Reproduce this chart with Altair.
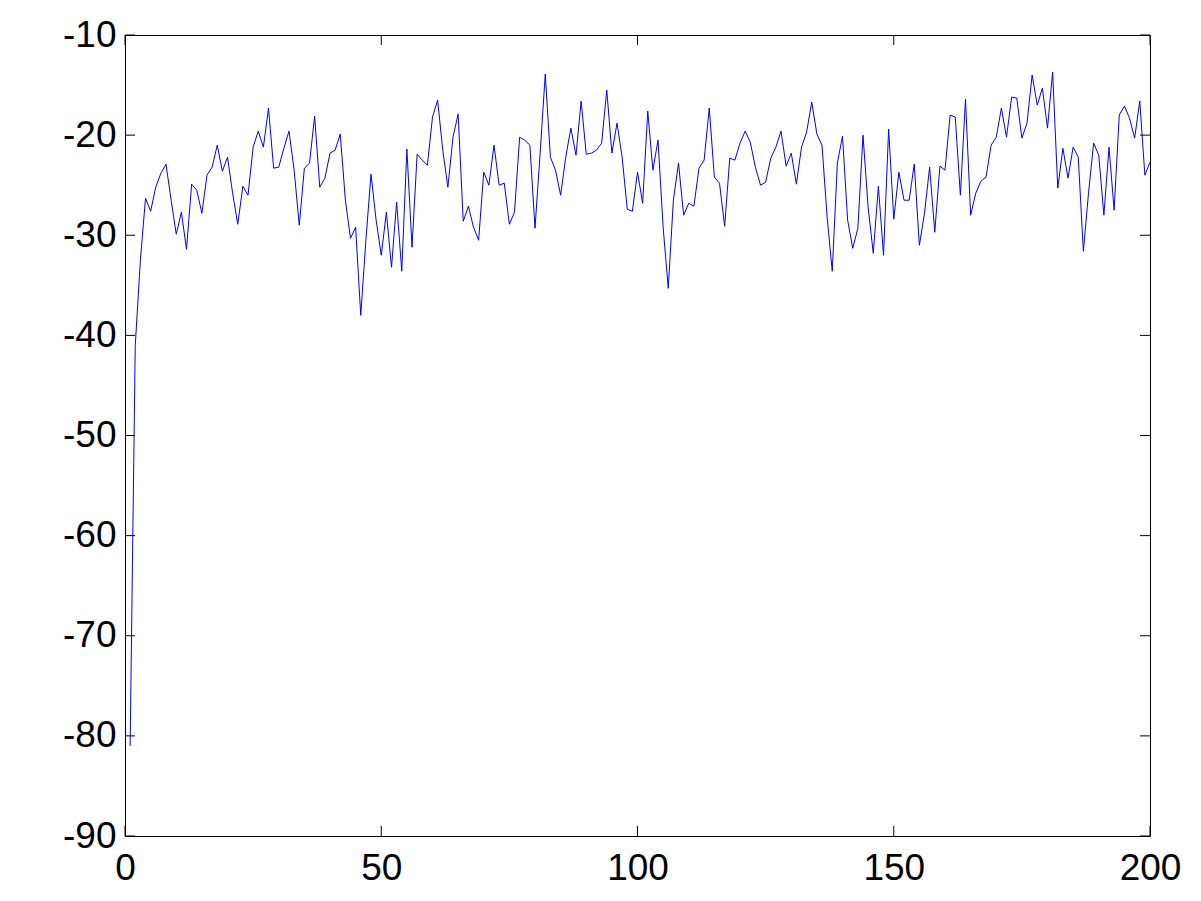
import altair as alt
import pandas as pd

idx = list(range(1, 201))
vals = [
    -81, -41, -32.5, -26.3, -27.6, -25.2, -23.8, -22.9, -26.5, -29.9,
    -27.7, -31.4, -24.9, -25.5, -27.8, -24, -23.2, -21, -23.6, -22.2,
    -25.8, -28.9, -25.1, -26, -21.2, -19.6, -21.2, -17.3, -23.3, -23.2,
    -21.3, -19.6, -23.5, -29, -23.3, -22.8, -18.1, -25.2, -24.3, -21.8,
    -21.5, -19.9, -26.5, -30.3, -29.2, -38, -30.5, -23.9, -28.5, -32,
    -27.7, -33.2, -26.7, -33.6, -21.4, -31.2, -21.9, -22.5, -23, -18.2,
    -16.5, -21.5, -25.2, -20.2, -17.9, -28.6, -27.1, -29.2, -30.5, -23.7,
    -25, -21, -25, -24.8, -28.9, -27.7, -20.2, -20.5, -21, -29.3,
    -21.8, -13.9, -22.2, -23.5, -26, -22.2, -19.3, -22, -16.6, -21.9,
    -21.8, -21.5, -20.8, -15.5, -21.8, -18.8, -22.2, -27.4, -27.6, -23.7,
    -26.8, -17.6, -23.5, -20.5, -29.2, -35.3, -26.5, -22.8, -28, -26.8,
    -27.1, -23.3, -22.5, -17.3, -24.2, -24.8, -29.1, -22.3, -22.5, -20.8,
    -19.6, -20.7, -23.2, -25, -24.7, -22.3, -21.2, -19.6, -23.1, -21.8,
    -24.9, -21.2, -19.7, -16.7, -19.9, -21, -28.2, -33.6, -22.8, -20.1,
    -28.5, -31.3, -29.3, -20, -27.2, -31.8, -25.1, -32, -19.4, -28.4,
    -23.7, -26.5, -26.5, -22.9, -31, -27.8, -23.2, -29.7, -23.1, -23.5,
    -18, -18.2, -26, -16.4, -28, -25.8, -24.6, -24.2, -21, -20.2,
    -17.3, -20.2, -16.2, -16.3, -20.3, -18.8, -14, -17, -15.3, -19.3,
    -13.7, -25.3, -21.3, -24.3, -21.2, -22.2, -31.6, -25.8, -20.8, -22,
    -28, -21.2, -27.5, -18, -17.1, -18.3, -20.3, -16.6, -24, -22.7,
]
x_ticks = [0, 50, 100, 150, 200]
y_ticks = [-90, -80, -70, -60, -50, -40, -30, -20, -10]

W, H = 1025, 801
TICK = 10
FONT = "Liberation Sans"
FS = 37

df = pd.DataFrame({"i": idx, "v": vals})
df_xt = pd.DataFrame({"i": x_ticks})
df_yt = pd.DataFrame({"v": y_ticks})

xscale = alt.Scale(domain=[0, 200], nice=False, zero=False)
yscale = alt.Scale(domain=[-90, -10], nice=False, zero=False)
xaxis = alt.Axis(values=x_ticks, tickSize=0, domain=False, grid=False,
                 labelFontSize=FS, labelFont=FONT, labelColor="black",
                 labelPadding=14, labelExpr="'' + datum.value", title=None,
                 labelFlush=False, labelOverlap=False)
yaxis = alt.Axis(values=y_ticks, tickSize=0, domain=False, grid=False,
                 labelFontSize=FS, labelFont=FONT, labelColor="black",
                 labelPadding=9, labelExpr="'' + datum.value", title=None,
                 labelFlush=False, labelOverlap=False)

X = alt.X("i:Q", scale=xscale, axis=xaxis)
Y = alt.Y("v:Q", scale=yscale, axis=yaxis)

line = alt.Chart(df).mark_line(color="#0000ff", strokeWidth=1, clip=True).encode(x=X, y=Y)

xt_bottom = alt.Chart(df_xt).mark_rule(color="black", strokeWidth=1).encode(
    x=X, y=alt.value(H), y2=alt.value(H - TICK))
xt_top = alt.Chart(df_xt).mark_rule(color="black", strokeWidth=1).encode(
    x=X, y=alt.value(0), y2=alt.value(TICK))
yt_left = alt.Chart(df_yt).mark_rule(color="black", strokeWidth=1).encode(
    y=Y, x=alt.value(0), x2=alt.value(TICK))
yt_right = alt.Chart(df_yt).mark_rule(color="black", strokeWidth=1).encode(
    y=Y, x=alt.value(W - TICK), x2=alt.value(W))

chart = alt.layer(line, xt_bottom, xt_top, yt_left, yt_right).properties(
    width=W, height=H,
    autosize=alt.AutoSizeParams(type="none"),
    padding={"left": 117, "top": 27, "right": 43, "bottom": 57},
    background="white",
).configure_view(stroke="black", strokeWidth=1)

chart.save("out.html", embed_options={"renderer": "svg", "actions": False})
